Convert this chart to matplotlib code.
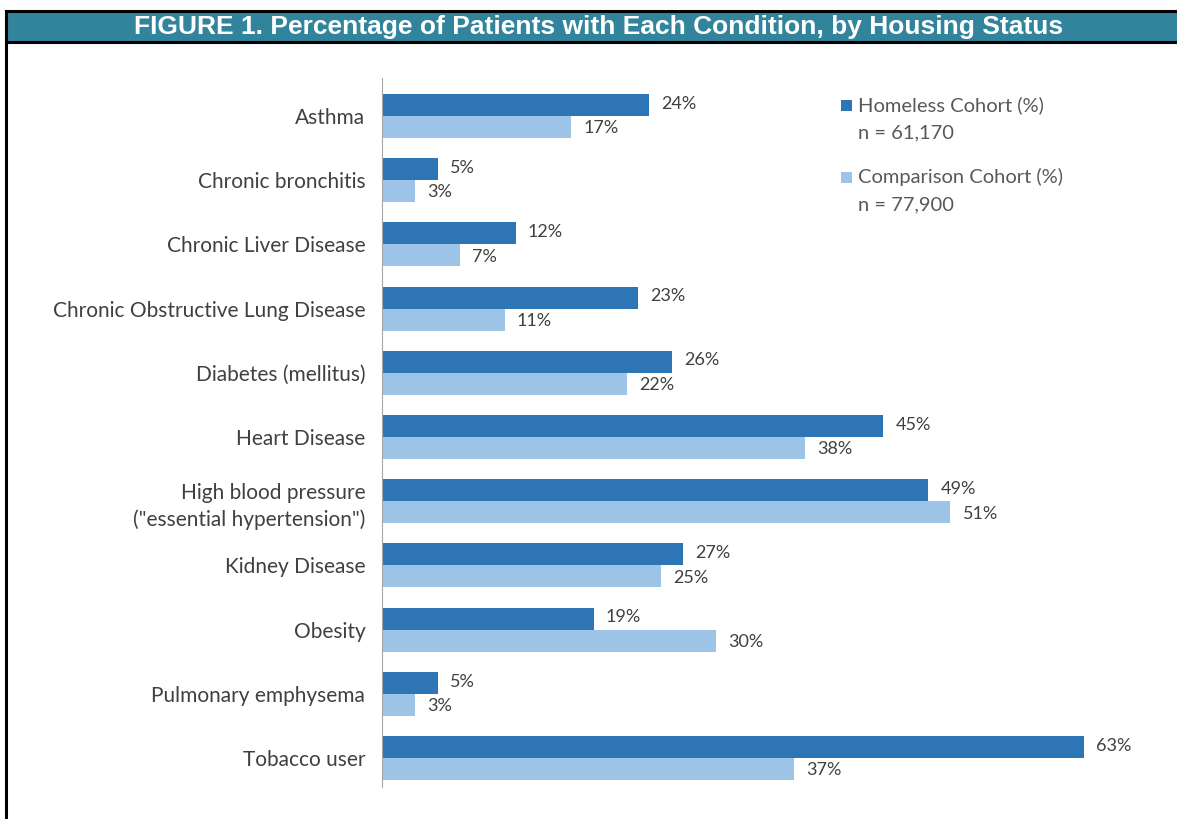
import matplotlib
matplotlib.use("Agg")
import matplotlib.pyplot as plt
from matplotlib.patches import Rectangle
from matplotlib.lines import Line2D
import numpy as np

conditions = [
    "Asthma",
    "Chronic bronchitis",
    "Chronic Liver Disease",
    "Chronic Obstructive Lung Disease",
    "Diabetes (mellitus)",
    "Heart Disease",
    "High blood pressure\n(\"essential hypertension\")",
    "Kidney Disease",
    "Obesity",
    "Pulmonary emphysema",
    "Tobacco user",
]
homeless = [24, 5, 12, 23, 26, 45, 49, 27, 19, 5, 63]
comparison = [17, 3, 7, 11, 22, 38, 51, 25, 30, 3, 37]

DARK = "#2E75B6"
LIGHT = "#9DC3E6"
TEXT = "#404040"
W, H = 1177, 819

fig = plt.figure(figsize=(W / 100, H / 100), dpi=100)
fig.patch.set_facecolor("white")

# title bar + frame
fig.patches.append(Rectangle((6 / W, 1 - 42 / H), 1 - 6 / W, 31 / H,
                             transform=fig.transFigure, facecolor="#31849B",
                             edgecolor="none", zorder=1))
for y in (11, 42):
    fig.lines.append(Line2D([6 / W, 1], [1 - y / H, 1 - y / H], transform=fig.transFigure,
                            color="black", lw=2.2, zorder=2))
fig.lines.append(Line2D([6 / W, 6 / W], [0, 1 - 11 / H], transform=fig.transFigure,
                        color="black", lw=2.2, zorder=2))
fig.text(599 / W, 1 - 27 / H, "FIGURE 1. Percentage of Patients with Each Condition, by Housing Status",
         ha="center", va="center", color="white", fontsize=19, fontweight="bold",
         family="Liberation Sans")

# chart
ax = fig.add_axes([382 / W, 1 - 787 / H, 780 / W, (787 - 78) / H])
y = np.arange(len(conditions))
h = 0.343
ax.barh(y - h / 2, homeless, height=h, color=DARK, edgecolor="none")
ax.barh(y + h / 2, comparison, height=h, color=LIGHT, edgecolor="none")
for i in range(len(conditions)):
    ax.text(homeless[i] + 1.1, y[i] - h / 2 - 0.02, f"{homeless[i]}%", va="center", ha="left",
            color=TEXT, fontsize=13, family="Lato")
    ax.text(comparison[i] + 1.1, y[i] + h / 2 + 0.02, f"{comparison[i]}%", va="center", ha="left",
            color=TEXT, fontsize=13, family="Lato")

ax.set_xlim(0, 70)
ax.set_ylim(10.45, -0.59)
ax.set_yticks(y)
ax.set_yticklabels(conditions, fontsize=15, color=TEXT, family="Lato", linespacing=1.4)
ax.tick_params(axis="y", length=0, pad=12)
ax.set_xticks([])
for s in ("top", "right", "bottom"):
    ax.spines[s].set_visible(False)
ax.spines["left"].set_color("#A6A6A6")

# legend
legend_items = [
    (DARK, "Homeless Cohort (%)", "n = 61,170", 105),
    (LIGHT, "Comparison Cohort (%)", "n = 77,900", 177),
]
for color, label, n_text, ypx in legend_items:
    fig.patches.append(Rectangle((841 / W, 1 - (ypx + 6) / H), 11 / W, 11 / H,
                                 transform=fig.transFigure, facecolor=color, edgecolor="none"))
    fig.text(858 / W, 1 - ypx / H, label, va="center", ha="left", color="#595959",
             fontsize=14.5, family="Lato")
    fig.text(858 / W, 1 - (ypx + 28) / H, n_text, va="center", ha="left", color="#595959",
             fontsize=14.5, family="Lato")

fig.savefig("out.png", dpi=100)
